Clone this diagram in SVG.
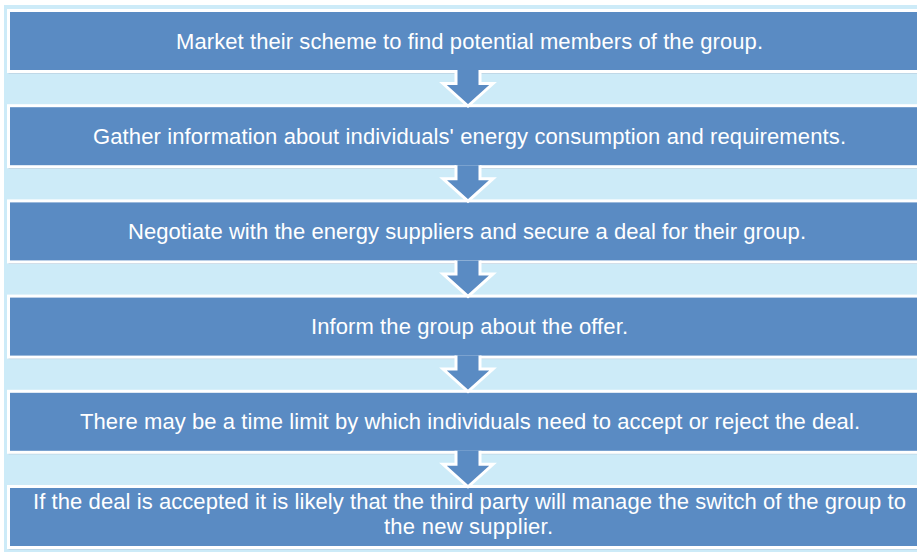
<svg xmlns="http://www.w3.org/2000/svg" width="917" height="552" viewBox="0 0 917 552">
  <style>
    .panel { fill: #cdebf8; }
    .shadow { fill: #b3c6d6; }
    .box { fill: #5a8bc3; stroke: #ffffff; stroke-width: 3; }
    .arrow { fill: #5a8bc3; stroke: #ffffff; stroke-width: 3; stroke-linejoin: miter; }
    .label { font-family: "Liberation Sans", Arial, sans-serif; font-size: 22px; fill: #ffffff; text-anchor: middle; }
  </style>

  <rect x="0" y="0" width="917" height="552" fill="#ffffff"/>
  <rect class="panel" x="4" y="5" width="930" height="560"/>

  <!-- step boxes -->
  <g id="step1">
    <rect class="shadow" x="8.5" y="12.5" width="930" height="61"/>
    <rect class="box" x="8.5" y="10.5" width="930" height="61"/>
    <text class="label" x="469.5" y="48.5" textLength="587" lengthAdjust="spacing">Market their scheme to find potential members of the group.</text>
  </g>
  <g id="step2">
    <rect class="shadow" x="8.5" y="107.7" width="930" height="61"/>
    <rect class="box" x="8.5" y="105.7" width="930" height="61"/>
    <text class="label" x="469.5" y="143.5" textLength="753" lengthAdjust="spacing">Gather information about individuals' energy consumption and requirements.</text>
  </g>
  <g id="step3">
    <rect class="shadow" x="8.5" y="202.9" width="930" height="61"/>
    <rect class="box" x="8.5" y="200.9" width="930" height="61"/>
    <text class="label" x="467" y="238.5" textLength="678" lengthAdjust="spacing">Negotiate with the energy suppliers and secure a deal for their group.</text>
  </g>
  <g id="step4">
    <rect class="shadow" x="8.5" y="298.1" width="930" height="61"/>
    <rect class="box" x="8.5" y="296.1" width="930" height="61"/>
    <text class="label" x="469.5" y="333.5" textLength="317" lengthAdjust="spacing">Inform the group about the offer.</text>
  </g>
  <g id="step5">
    <rect class="shadow" x="8.5" y="393.3" width="930" height="61"/>
    <rect class="box" x="8.5" y="391.3" width="930" height="61"/>
    <text class="label" x="470" y="428.5" textLength="780" lengthAdjust="spacing">There may be a time limit by which individuals need to accept or reject the deal.</text>
  </g>
  <g id="step6">
    <rect class="shadow" x="8.5" y="488.5" width="930" height="61"/>
    <rect class="box" x="8.5" y="486.5" width="930" height="61"/>
    <text class="label" x="469.5" y="509" textLength="873" lengthAdjust="spacing">If the deal is accepted it is likely that the third party will manage the switch of the group to</text>
    <text class="label" x="468.5" y="534" textLength="169" lengthAdjust="spacing">the new supplier.</text>
  </g>

  <!-- down arrows between steps (open at the top so they merge with the box above) -->
  <g id="connectors">
    <path class="arrow" d="M456,70 V83.5 H443 L468,106 L493,83.5 H480 V70"/>
    <path class="arrow" d="M456,165.2 V178.7 H443 L468,201.2 L493,178.7 H480 V165.2"/>
    <path class="arrow" d="M456,260.4 V273.9 H443 L468,296.4 L493,273.9 H480 V260.4"/>
    <path class="arrow" d="M456,355.6 V369.1 H443 L468,391.6 L493,369.1 H480 V355.6"/>
    <path class="arrow" d="M456,450.8 V464.3 H443 L468,486.8 L493,464.3 H480 V450.8"/>
  </g>
</svg>
